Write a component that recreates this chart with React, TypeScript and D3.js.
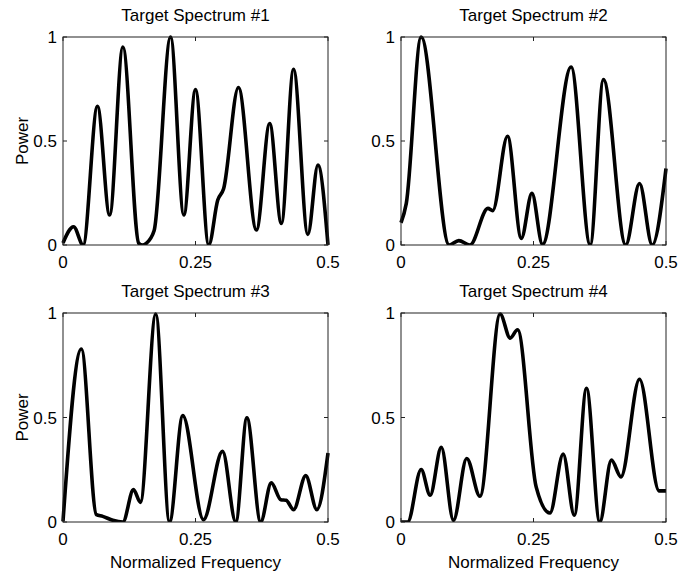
import React from "react";
import * as d3 from "d3";

const titles = ["Target Spectrum #1", "Target Spectrum #2", "Target Spectrum #3", "Target Spectrum #4"];
const xTicks = [0, 0.25, 0.5];
const yTicks = [0, 0.5, 1];
const xTickLabels = ["0", "0.25", "0.5"];
const yTickLabels = ["0", "0.5", "1"];

const spec1: [number, number][] = [
  [0, 0.01], [0.02, 0.088], [0.038, 0], [0.065, 0.667], [0.088, 0.144], [0.113, 0.952],
  [0.143, 0.008], [0.15, 0], [0.157, 0.008], [0.172, 0.07], [0.203, 1.0], [0.228, 0.144],
  [0.25, 0.747], [0.275, 0], [0.292, 0.216], [0.303, 0.27], [0.331, 0.757], [0.365, 0.072],
  [0.39, 0.584], [0.412, 0.104], [0.435, 0.845], [0.462, 0.051], [0.481, 0.384], [0.5, 0],
];
const spec2: [number, number][] = [
  [0, 0.107], [0.01, 0.2], [0.038, 1.0], [0.091, 0], [0.109, 0.021], [0.13, 0], [0.164, 0.176],
  [0.173, 0.165], [0.201, 0.523], [0.227, 0.032], [0.247, 0.248], [0.267, 0.003],
  [0.321, 0.856], [0.357, 0], [0.382, 0.795], [0.424, 0], [0.45, 0.296], [0.474, 0], [0.5, 0.368],
];
const spec3: [number, number][] = [
  [0, 0.003], [0.0346, 0.828], [0.063, 0.035], [0.075, 0.027], [0.094, 0.008], [0.113, 0],
  [0.133, 0.155], [0.146, 0.094], [0.175, 0.995], [0.201, 0], [0.226, 0.509], [0.265, 0.011],
  [0.301, 0.338], [0.326, 0], [0.347, 0.498], [0.373, 0], [0.393, 0.187], [0.411, 0.107],
  [0.421, 0.104], [0.435, 0.059], [0.458, 0.222], [0.479, 0.059], [0.5, 0.33],
];
const spec4: [number, number][] = [
  [0, 0], [0.0126, 0], [0.038, 0.251], [0.055, 0.128], [0.076, 0.357], [0.099, 0.008],
  [0.124, 0.304], [0.149, 0.123], [0.187, 0.995], [0.206, 0.88], [0.22, 0.92], [0.255, 0.168],
  [0.281, 0.043], [0.306, 0.325], [0.327, 0.032], [0.35, 0.64], [0.375, 0], [0.397, 0.296],
  [0.415, 0.216], [0.45, 0.683], [0.487, 0.149], [0.5, 0.149],
];
const series = [spec1, spec2, spec3, spec4];

const panels = [
  { x0: 63, x1: 328, y0: 37, y1: 245, ylab: true, xlab: false },
  { x0: 401, x1: 666, y0: 37, y1: 245, ylab: false, xlab: false },
  { x0: 63, x1: 328, y0: 313, y1: 522, ylab: true, xlab: true },
  { x0: 401, x1: 666, y0: 313, y1: 522, ylab: false, xlab: true },
];

const font = "Liberation Sans, Arial, Helvetica, sans-serif";

export default function App() {
  return (
    <svg width={692} height={574} style={{ position: "absolute", left: 0, top: 0, background: "#fff" }} fontFamily={font}>
      <rect x={0} y={0} width={692} height={574} fill="#fff" />
      {panels.map((p, i) => {
        const x = d3.scaleLinear().domain([0, 0.5]).range([p.x0, p.x1]);
        const y = d3.scaleLinear().domain([0, 1]).range([p.y1, p.y0]);
        const line = d3.line<[number, number]>().x((d) => x(d[0])).y((d) => y(d[1])).curve(d3.curveMonotoneX);
        const cx = (p.x0 + p.x1) / 2;
        const cy = (p.y0 + p.y1) / 2;
        return (
          <g key={i}>
            <defs>
              <clipPath id={`clip${i}`}>
                <rect x={p.x0 - 2} y={p.y0 - 3} width={p.x1 - p.x0 + 4} height={p.y1 - p.y0 + 3} />
              </clipPath>
            </defs>
            <path d={line(series[i]) || ""} fill="none" stroke="#000" strokeWidth={3.6} strokeLinejoin="round" clipPath={`url(#clip${i})`} />
            <rect x={p.x0} y={p.y0} width={p.x1 - p.x0} height={p.y1 - p.y0} fill="none" stroke="#222" strokeWidth={1} />
            {xTicks.map((t, j) => (
              <g key={"x" + j}>
                <line x1={x(t)} x2={x(t)} y1={p.y1} y2={p.y1 - 4} stroke="#222" />
                <line x1={x(t)} x2={x(t)} y1={p.y0} y2={p.y0 + 4} stroke="#222" />
                <text x={x(t)} y={p.y1 + 23} fontSize={17} textAnchor="middle">{xTickLabels[j]}</text>
              </g>
            ))}
            {yTicks.map((t, j) => (
              <g key={"y" + j}>
                <line x1={p.x0} x2={p.x0 + 4} y1={y(t)} y2={y(t)} stroke="#222" />
                <line x1={p.x1} x2={p.x1 - 4} y1={y(t)} y2={y(t)} stroke="#222" />
                <text x={p.x0 - 6} y={y(t) + 6} fontSize={17} textAnchor="end">{yTickLabels[j]}</text>
              </g>
            ))}
            <text x={cx} y={p.y0 - 16} fontSize={17} textAnchor="middle">{titles[i]}</text>
            {p.ylab && (
              <text transform={`translate(${p.x0 - 35},${cy}) rotate(-90)`} fontSize={17} textAnchor="middle">Power</text>
            )}
            {p.xlab && (
              <text x={cx} y={p.y1 + 46} fontSize={17} textAnchor="middle">Normalized Frequency</text>
            )}
          </g>
        );
      })}
    </svg>
  );
}
